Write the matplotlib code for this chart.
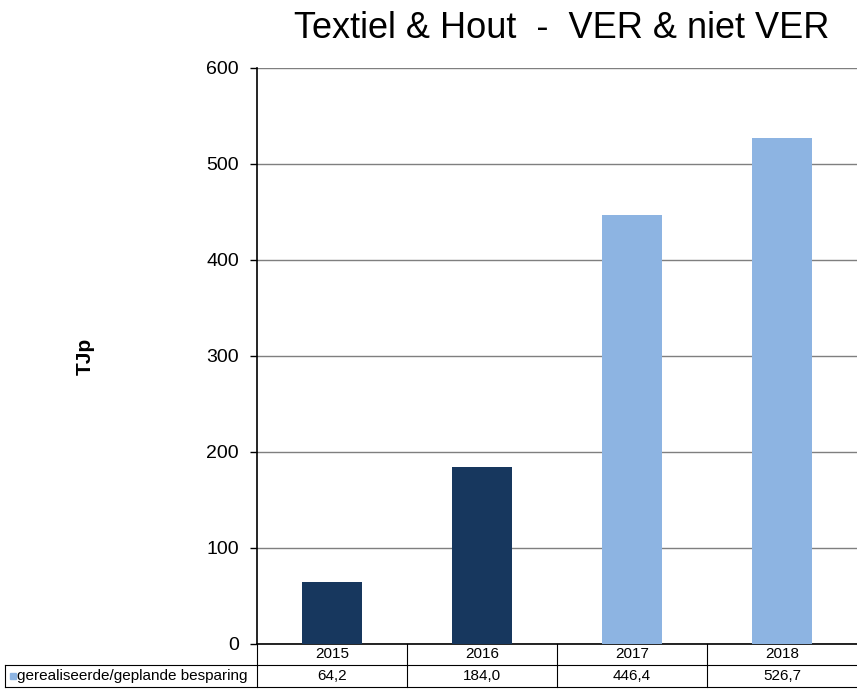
import matplotlib.pyplot as plt
from matplotlib.patches import Rectangle

# data
years = ['2015', '2016', '2017', '2018']
savings = [64.2, 184.0, 446.4, 526.7]
bar_colors = ['#17375E', '#17375E', '#8DB4E2', '#8DB4E2']
series_label = 'gerealiseerde/geplande besparing'

plt.rcParams['font.family'] = ['Liberation Sans', 'DejaVu Sans']

fig = plt.figure(figsize=(8.57, 6.89), dpi=100)
ax = fig.add_axes([257 / 857, 45 / 689, 600 / 857, 576 / 689])

x = list(range(len(years)))
ax.bar(x, savings, width=0.4, color=bar_colors, zorder=3)

ax.set_xlim(-0.5, len(years) - 0.5)
ax.set_ylim(0, 600)
ax.set_yticks(range(0, 601, 100))
ax.tick_params(axis='y', labelsize=14, length=5, width=1, pad=8)
ax.set_xticks([])
ax.grid(axis='y', color='#7f7f7f', linewidth=1, zorder=0)
for s in ['top', 'right']:
    ax.spines[s].set_visible(False)
ax.spines['left'].set_linewidth(1.2)
ax.spines['bottom'].set_linewidth(1.2)

ax.set_ylabel('TJp', fontsize=15, fontweight='bold', labelpad=80)

fig.suptitle('Textiel & Hout  -  VER & niet VER', x=0.655, y=0.984,
             fontsize=26, va='top')

# data table under the axis
tr = ax.get_xaxis_transform()
px = 1 / 576  # one pixel in axes-y units
row1_bot = -21 * px
row2_bot = -43 * px
label_left = -0.5 - 252 / 150
line_kw = dict(color='black', linewidth=0.8, transform=tr, clip_on=False)

ax.plot([label_left, len(years) - 0.5], [row1_bot, row1_bot], **line_kw)
ax.plot([label_left, len(years) - 0.5], [row2_bot, row2_bot], **line_kw)
ax.plot([label_left, label_left], [row1_bot, row2_bot], **line_kw)
for i in range(len(years)):
    ax.plot([i - 0.5, i - 0.5], [0, row2_bot], **line_kw)
    ax.text(i, row1_bot / 2, years[i], transform=tr, ha='center',
            va='center', fontsize=11)
    ax.text(i, (row1_bot + row2_bot) / 2, f'{savings[i]:.1f}'.replace('.', ','),
            transform=tr, ha='center', va='center', fontsize=11)

ax.add_patch(Rectangle((label_left + 0.03, (row1_bot + row2_bot) / 2 - 3 * px),
                       0.04, 6 * px, color='#8DB4E2', transform=tr,
                       clip_on=False))
ax.text(label_left + 0.08, (row1_bot + row2_bot) / 2, series_label,
        transform=tr, ha='left', va='center', fontsize=11)

fig.savefig('out.png', dpi=100)
